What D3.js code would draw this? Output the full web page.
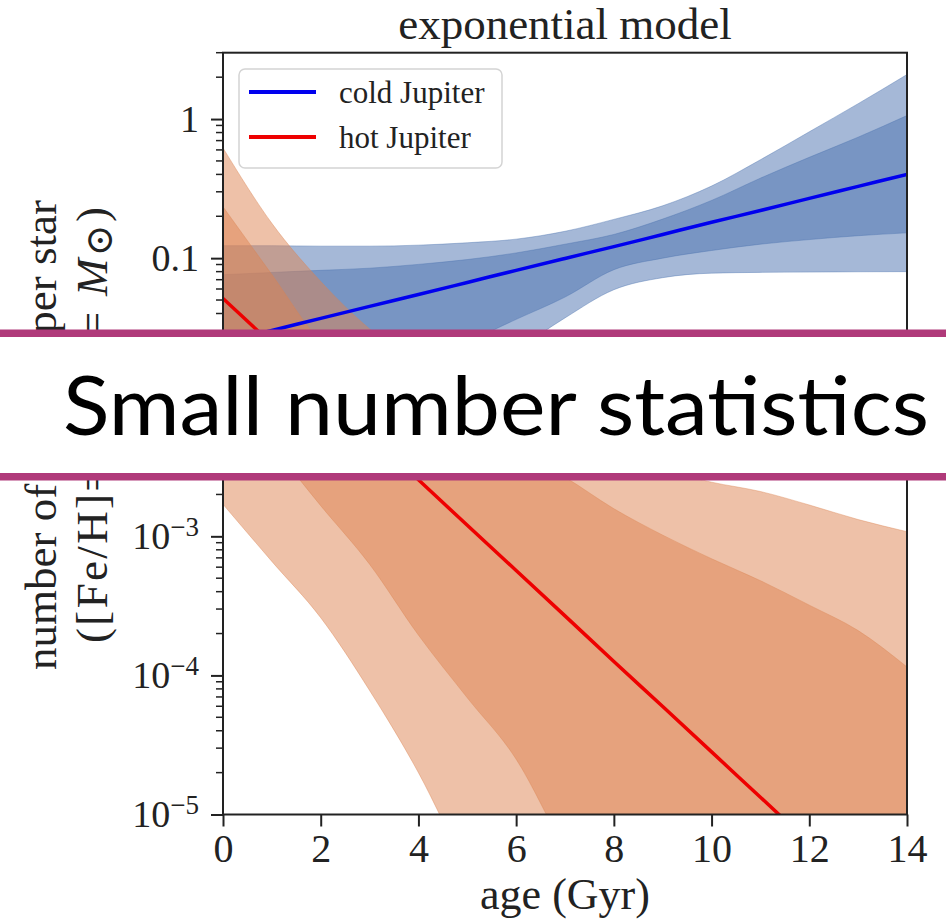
<!DOCTYPE html>
<html>
<head>
<meta charset="utf-8">
<script src="https://cdn.jsdelivr.net/npm/d3@7"></script>
<style>
  body { margin: 0; background: #fff; }
  svg text { font-family: "Liberation Serif", "DejaVu Serif", serif; fill: #222; }
</style>
</head>
<body>
<svg id="chart" width="946" height="921"></svg>
<script>
// values (number per star vs age in Gyr)
const ages = [0, 1, 2, 3, 4, 5, 6, 7, 8, 9, 10, 11, 12, 13, 14];

const coldMedian  = [0.0248, 0.0302, 0.0369, 0.045, 0.0548, 0.0669, 0.0817, 0.0995, 0.121, 0.148, 0.181, 0.220, 0.269, 0.328, 0.400];
const coldInnerHi = [0.076, 0.0789, 0.0817, 0.0847, 0.0902, 0.0977, 0.109, 0.126, 0.148, 0.191, 0.260, 0.376, 0.531, 0.741, 1.06];
const coldInnerLo = [0.0100, 0.011, 0.0126, 0.0151, 0.019, 0.0251, 0.0363, 0.0525, 0.0826, 0.100, 0.1135, 0.126, 0.136, 0.145, 0.152];
const coldOuterHi = [0.123, 0.123, 0.122, 0.122, 0.124, 0.129, 0.137, 0.156, 0.190, 0.238, 0.330, 0.510, 0.810, 1.29, 2.09];
const coldOuterLo = [0.004, 0.005, 0.0063, 0.0079, 0.01, 0.0135, 0.0219, 0.0372, 0.0593, 0.0724, 0.078, 0.079, 0.0794, 0.0798, 0.080];

const hotMedian  = [0.0513, 0.0242, 0.01143, 0.0054, 0.00255, 0.0012, 5.68e-4, 2.68e-4, 1.26e-4, 5.97e-5, 2.82e-5, 1.33e-5, 6.28e-6, 2.96e-6, 1.40e-6];
const hotInnerHi = [0.234, 0.0762, 0.0251, 0.0148, 0.0093, 0.006, 0.0041, 0.00266, 0.00158, 0.00102, 6.9e-4, 4.8e-4, 3.2e-4, 2.1e-4, 1.15e-4];
const hotInnerLo = [0.0112, 0.0045, 0.00166, 6.3e-4, 1.95e-4, 6.9e-5, 2.5e-5, 5.6e-6, 1.5e-6, 5e-7, 2e-7, 1e-7, 5e-8, 2e-8, 1e-8];
const hotOuterHi = [0.62, 0.178, 0.068, 0.031, 0.0174, 0.0107, 0.0071, 0.005, 0.0037, 0.003, 0.00245, 0.0021, 0.00168, 0.00132, 0.00108];
const hotOuterLo = [1.7e-3, 6.6e-4, 2.6e-4, 7.8e-5, 2.0e-5, 4e-6, 1e-6, 3e-7, 1e-7, 5e-8, 2e-8, 1e-8, 5e-9, 2e-9, 1e-9];

const xTicks = [0, 2, 4, 6, 8, 10, 12, 14];
const yTicks = [1e-5, 1e-4, 1e-3, 1e-2, 0.1, 1];
// the 10^-2 label sits under the banner in the picture, so it is left blank
const yTickLabels = [["10", "−5"], ["10", "−4"], ["10", "−3"], ["", ""], ["0.1", ""], ["1", ""]];

const seriesNames = ["cold Jupiter", "hot Jupiter"];
const lineColors = ["#0000ee", "#ee0000"];
const bandColors = ["#4c72b0", "#dd8452"];

const svg = d3.select("#chart");
const pLeft = 223, pRight = 907, pTop = 52.7, pBottom = 814.5;

const x = d3.scaleLinear().domain([0, 14]).range([pLeft, pRight]);
const y = d3.scaleLog().domain([1e-5, 3]).range([pBottom, pTop]);

svg.append("defs").append("clipPath").attr("id", "plotclip")
  .append("rect").attr("x", pLeft).attr("y", pTop)
  .attr("width", pRight - pLeft).attr("height", pBottom - pTop);

const plot = svg.append("g").attr("clip-path", "url(#plotclip)");

const band = (lo, hi) => d3.area()
  .x((d, i) => x(ages[i]))
  .y0((d, i) => y(lo[i]))
  .y1((d, i) => y(hi[i]))
  .curve(d3.curveMonotoneX)(ages);

const line = vals => d3.line()
  .x((d, i) => x(ages[i]))
  .y((d, i) => y(vals[i]))
  .curve(d3.curveMonotoneX)(ages);

const bands = [
  [coldOuterLo, coldOuterHi, 0], [coldInnerLo, coldInnerHi, 0],
  [hotOuterLo, hotOuterHi, 1], [hotInnerLo, hotInnerHi, 1]
];
bands.forEach(b => {
  plot.append("path")
    .attr("d", band(b[0], b[1]))
    .attr("fill", bandColors[b[2]])
    .attr("fill-opacity", 0.5)
    .attr("stroke", bandColors[b[2]])
    .attr("stroke-opacity", 0.4)
    .attr("stroke-width", 1);
});

[coldMedian, hotMedian].forEach((vals, k) => {
  plot.append("path")
    .attr("d", line(vals))
    .attr("fill", "none")
    .attr("stroke", lineColors[k])
    .attr("stroke-width", 3.5);
});

// axes
const xAxis = svg.append("g")
  .attr("transform", `translate(0,${pBottom})`)
  .call(d3.axisBottom(x).tickValues(xTicks).tickSize(12).tickPadding(7).tickFormat(d3.format("d")));
xAxis.select(".domain").remove();
xAxis.selectAll(".tick line").attr("stroke", "#222").attr("stroke-width", 2);
xAxis.selectAll(".tick text").attr("font-size", 40).attr("font-family", "Liberation Serif").attr("fill", "#222");

const yAxis = svg.append("g")
  .attr("transform", `translate(${pLeft},0)`)
  .call(d3.axisLeft(y).tickValues(yTicks).tickSize(12).tickPadding(12));
yAxis.select(".domain").remove();
yAxis.selectAll(".tick line").attr("stroke", "#222").attr("stroke-width", 2);
yAxis.selectAll(".tick text").each(function(d) {
  const lab = yTickLabels[yTicks.indexOf(d)];
  const t = d3.select(this).text(null)
    .attr("font-size", 38).attr("font-family", "Liberation Serif").attr("fill", "#222");
  t.append("tspan").text(lab[0]);
  if (lab[1]) t.append("tspan").attr("dy", -13).attr("font-size", 27).text(lab[1]);
});

// minor log ticks
const minor = y.ticks().filter(v => !yTicks.some(t => Math.abs(t - v) / t < 1e-6));
svg.append("g").selectAll("line").data(minor).join("line")
  .attr("x1", pLeft - 7).attr("x2", pLeft)
  .attr("y1", d => y(d)).attr("y2", d => y(d))
  .attr("stroke", "#222").attr("stroke-width", 1.5);

// frame
svg.append("rect")
  .attr("x", pLeft).attr("y", pTop)
  .attr("width", pRight - pLeft).attr("height", pBottom - pTop)
  .attr("fill", "none").attr("stroke", "#222").attr("stroke-width", 2);

// title and axis labels
svg.append("text").attr("x", (pLeft + pRight) / 2).attr("y", 39)
  .attr("text-anchor", "middle").attr("font-size", 45).text("exponential model");

svg.append("text").attr("x", (pLeft + pRight) / 2).attr("y", 909)
  .attr("text-anchor", "middle").attr("font-size", 44).text("age (Gyr)");

svg.append("text")
  .attr("transform", "translate(56,435) rotate(-90)")
  .attr("text-anchor", "middle").attr("font-size", 45)
  .text("number of planets per star");

const ylab2 = svg.append("text")
  .attr("transform", "translate(107,425) rotate(-90)")
  .attr("text-anchor", "middle").attr("font-size", 45)
  .attr("textLength", 436).attr("lengthAdjust", "spacing");
ylab2.append("tspan").text("([Fe/H]=0, ");
ylab2.append("tspan").attr("font-style", "italic").text("M");
ylab2.append("tspan").attr("font-size", 30).attr("dy", 8).text("⋆");
ylab2.append("tspan").attr("dy", -8).text(" = ");
ylab2.append("tspan").attr("font-style", "italic").text("M");
ylab2.append("tspan").attr("font-size", 38).attr("dy", 5).text("⊙");
ylab2.append("tspan").attr("dy", -5).text(")");

// legend
const legend = svg.append("g");
legend.append("rect")
  .attr("x", 239).attr("y", 69).attr("width", 263).attr("height", 99)
  .attr("rx", 6).attr("fill", "#fff").attr("fill-opacity", 0.85)
  .attr("stroke", "#d4d4d4").attr("stroke-width", 1.5);
seriesNames.forEach((name, i) => {
  const ly = 92 + i * 45;
  legend.append("line")
    .attr("x1", 249).attr("x2", 316).attr("y1", ly).attr("y2", ly)
    .attr("stroke", lineColors[i]).attr("stroke-width", 4);
  legend.append("text").attr("x", 339).attr("y", ly + 11)
    .attr("font-size", 31).text(name);
});

// overlay banner
const banner = svg.append("g");
banner.append("rect").attr("x", 0).attr("y", 333).attr("width", 946).attr("height", 144).attr("fill", "#fff");
banner.append("rect").attr("x", 0).attr("y", 329.5).attr("width", 946).attr("height", 7.5).attr("fill", "#b03a7a");
banner.append("rect").attr("x", 0).attr("y", 473).attr("width", 946).attr("height", 7.5).attr("fill", "#b03a7a");
banner.append("text")
  .attr("x", 63).attr("y", 435)
  .attr("font-size", 81)
  .attr("textLength", 866).attr("lengthAdjust", "spacingAndGlyphs")
  .style("font-family", "Lato, 'Open Sans', sans-serif")
  .style("fill", "#000")
  .text("Small number statistics");
</script>
</body>
</html>
